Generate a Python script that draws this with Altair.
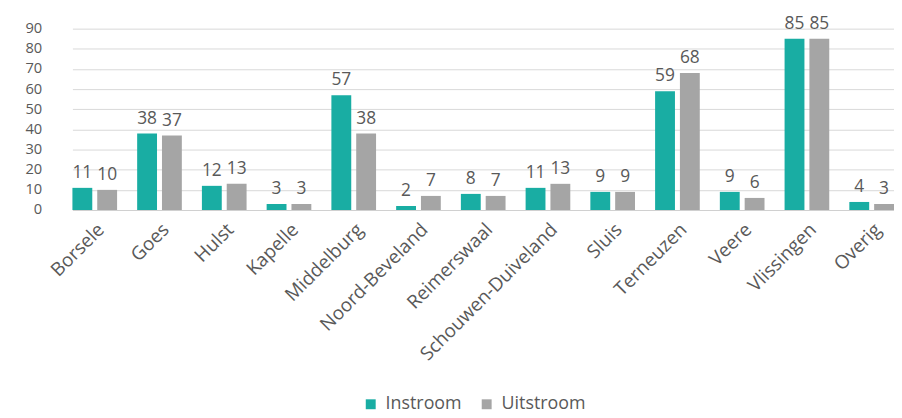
import altair as alt
import pandas as pd

categories = ["Borsele", "Goes", "Hulst", "Kapelle", "Middelburg", "Noord-Beveland",
              "Reimerswaal", "Schouwen-Duiveland", "Sluis", "Terneuzen", "Veere",
              "Vlissingen", "Overig"]
instroom = [11, 38, 12, 3, 57, 2, 8, 11, 9, 59, 9, 85, 4]
uitstroom = [10, 37, 13, 3, 38, 7, 7, 13, 9, 68, 6, 85, 3]
series = ["Instroom", "Uitstroom"]
colors = ["#19ada3", "#a5a5a5"]
y_ticks = [0, 10, 20, 30, 40, 50, 60, 70, 80, 90]

rows = []
for c, a, b in zip(categories, instroom, uitstroom):
    rows.append({"gemeente": c, "reeks": series[0], "waarde": a})
    rows.append({"gemeente": c, "reeks": series[1], "waarde": b})
df = pd.DataFrame(rows)

FONT = "Open Sans"
TXT = "#595959"

x = alt.X("gemeente:N", sort=categories, title=None,
          scale=alt.Scale(paddingInner=0.31, paddingOuter=0, range=[11, 840]),
          axis=alt.Axis(labelAngle=-45, labelAlign="right", labelBaseline="top",
                        labelPadding=10, labelLimit=0, ticks=False, domain=True,
                        domainColor="#d0d0d0",
                        labelFontSize=19, labelColor=TXT, labelFont=FONT))
xo = alt.XOffset("reeks:N", sort=series, scale=alt.Scale(paddingInner=0.2))
y = alt.Y("waarde:Q", title=None,
          scale=alt.Scale(domain=[0, 90], nice=False),
          axis=alt.Axis(values=y_ticks, ticks=False, domain=False, labelPadding=20,
                        labelFontSize=14.8, labelColor=TXT, labelFont=FONT,
                        gridColor="#d9d9d9", gridWidth=1))

base = alt.Chart(df)
bars = base.mark_bar().encode(
    x=x, xOffset=xo, y=y,
    color=alt.Color("reeks:N", sort=series, title=None,
                    scale=alt.Scale(domain=series, range=colors),
                    legend=alt.Legend(orient="none", direction="horizontal",
                                      legendX=303, legendY=370,
                                      symbolType="square", symbolSize=100,
                                      symbolStrokeWidth=0,
                                      labelFontSize=18, labelColor=TXT, labelFont=FONT,
                                      columnPadding=16, labelOffset=6)),
)
labels = base.mark_text(baseline="alphabetic", dy=-10, fontSize=17.5, color=TXT, font=FONT).encode(
    x=x, xOffset=xo, y=y, text=alt.Text("waarde:Q"),
)

chart = (bars + labels).properties(
    width=840, height=183,
    padding={"left": 54, "top": 19, "right": 0, "bottom": 207},
    autosize=alt.AutoSizeParams(type="none"),
    background="white",
).configure_view(stroke=None)

chart.save("out.html", embed_options={"renderer": "svg", "actions": False})
